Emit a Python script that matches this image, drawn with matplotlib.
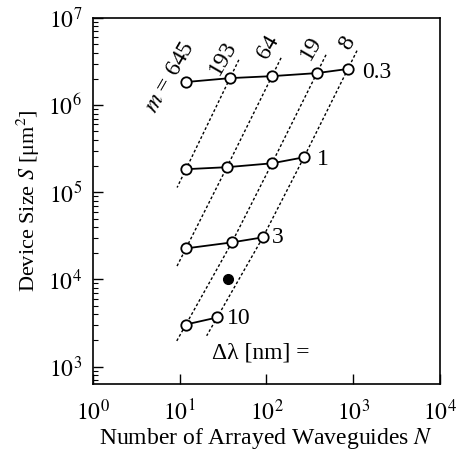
import numpy as np
import matplotlib
matplotlib.use("Agg")
import matplotlib.pyplot as plt

plt.rcParams['font.family'] = ['Liberation Serif', 'DejaVu Serif']
plt.rcParams['mathtext.fontset'] = 'stix'

# curves of constant channel spacing (dlambda in nm)
dlam_labels = ['0.3', '1', '3', '10']
N_03 = [11.8, 38, 116, 382, 870]
S_03 = [1.84e6, 2.04e6, 2.15e6, 2.33e6, 2.6e6]
N_1 = [11.8, 35, 116, 271]
S_1 = [1.84e5, 1.94e5, 2.15e5, 2.52e5]
N_3 = [11.8, 40, 91]
S_3 = [2.27e4, 2.66e4, 3.04e4]
N_10 = [11.8, 27]
S_10 = [3.04e3, 3.66e3]

# diffraction orders, one per dashed line
m_labels = ['645', '193', '64', '19', '8']

# single measured device
N_dev = [36]
S_dev = [1.0e4]

curves = [(N_03, S_03), (N_1, S_1), (N_3, S_3), (N_10, S_10)]
FS = 17

fig = plt.figure(figsize=(4.57, 4.57), dpi=100)
ax = fig.add_axes([0.2035, 0.1597, 0.759, 0.801])
ax.set_xscale('log')
ax.set_yscale('log')
ax.set_xlim(1, 1e4)
ax.set_ylim(10**2.8, 1e7)

# dashed constant-m lines through matching points on each curve
ext = 0.21  # decades of S the dashes run past the end points
for i in range(len(m_labels)):
    xs, ys = [], []
    for j, (N, S) in enumerate(curves):
        k = i - j
        if 0 <= k < len(N):
            xs.append(np.log10(N[k]))
            ys.append(np.log10(S[k]))
    if len(xs) < 2:
        continue
    xs = np.array(xs)
    ys = np.array(ys)
    d0 = np.array([xs[0] - xs[1], ys[0] - ys[1]])
    d1 = np.array([xs[-1] - xs[-2], ys[-1] - ys[-2]])
    top = np.array([xs[0], ys[0]]) + d0 * ext / abs(d0[1])
    bot = np.array([xs[-1], ys[-1]]) + d1 * ext / abs(d1[1])
    lx = np.concatenate([[top[0]], xs, [bot[0]]])
    ly = np.concatenate([[top[1]], ys, [bot[1]]])
    ax.plot(10**lx, 10**ly, color='black', lw=1.0, ls=(0, (2, 1.6)), zorder=1)

offsets = [(14, -4), (13, -2), (9, 0), (10, -1)]
for (N, S), lab, off in zip(curves, dlam_labels, offsets):
    ax.plot(N, S, color='black', lw=1.3, marker='o', ms=7.5, mfc='white',
            mec='black', mew=1.3, zorder=3)
    ax.annotate(lab, (N[-1], S[-1]), xytext=off, textcoords='offset pixels',
                ha='left', va='center', fontsize=FS)

ax.plot(N_dev, S_dev, 'o', color='black', ms=7, zorder=3)

m_pos = [(7.72, 2.1e6), (31.5, 3.47e6), (104, 4.64e6), (326, 4.52e6), (847, 5.16e6)]
for k, (lab, (x, y)) in enumerate(zip(m_labels, m_pos)):
    txt = '$m$ = ' + lab if k == 0 else lab
    ax.text(x, y, txt, rotation=60, ha='center', va='center', fontsize=FS,
            rotation_mode='anchor')

ax.text(23.5, 1450, 'Δλ [nm] =', ha='left', va='center', fontsize=FS)

ax.set_xticks([1, 10, 100, 1000, 10000])
ax.set_xticklabels(['$10^{0}$', '$10^{1}$', '$10^{2}$', '$10^{3}$', '$10^{4}$'])
ax.set_yticks([1e3, 1e4, 1e5, 1e6, 1e7])
ax.set_yticklabels(['$10^{3}$', '$10^{4}$', '$10^{5}$', '$10^{6}$', '$10^{7}$'])
ax.tick_params(which='both', direction='in', top=False, right=False, labelsize=FS)
ax.tick_params(which='major', length=7, width=1)
ax.tick_params(axis='x', which='major', pad=11)
ax.tick_params(axis='y', which='major', pad=8)
ax.tick_params(which='minor', length=3.5, width=0.8)
for sp in ax.spines.values():
    sp.set_linewidth(1.2)

ax.set_xlabel('Number of Arrayed Waveguides $N$', fontsize=FS, labelpad=1)
ax.set_ylabel('Device Size $S$ [μm$^2$]', fontsize=16, labelpad=4)

fig.savefig('out.png', dpi=100)
